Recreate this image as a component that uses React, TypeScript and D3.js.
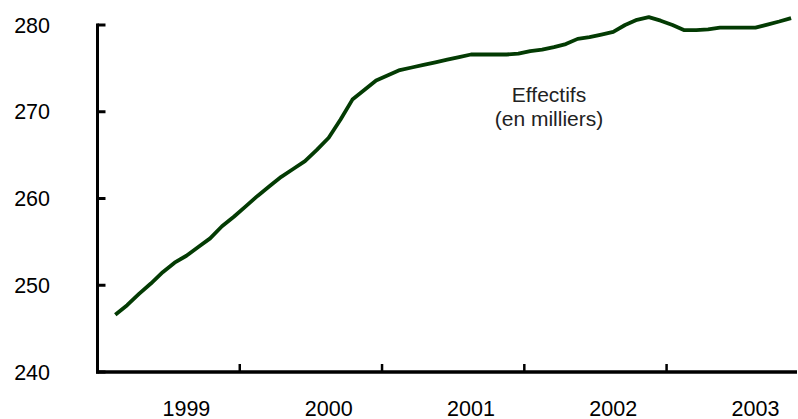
import React from "react";
import * as d3 from "d3";

// Monthly category index (category 0 is empty), values in thousands
const monthIndex: number[] = Array.from({ length: 58 }, (_, i) => i + 1);
const effectifs: number[] = [
  246.6, 247.7, 249.0, 250.2, 251.5, 252.6, 253.4, 254.4, 255.4, 256.8,
  257.9, 259.1, 260.3, 261.4, 262.5, 263.4, 264.3, 265.6, 267.0, 269.1,
  271.4, 272.5, 273.6, 274.2, 274.8, 275.1, 275.4, 275.7, 276.0, 276.3,
  276.6, 276.6, 276.6, 276.6, 276.7, 277.0, 277.15, 277.45, 277.8, 278.4,
  278.6, 278.9, 279.2, 280.0, 280.6, 280.9, 280.5, 280.0, 279.4, 279.4,
  279.5, 279.7, 279.7, 279.7, 279.7, 280.05, 280.4, 280.8,
];
const yearLabels: string[] = ["1999", "2000", "2001", "2002", "2003"];
const yearLabelCategory: number[] = [7, 19, 31, 43, 55];
const xTickBoundaries: number[] = [12, 24, 36, 48];
const yTicks: number[] = [240, 250, 260, 270, 280];
const annotation: string[] = ["Effectifs", "(en milliers)"];

const W = 798;
const H = 419;

export default function App() {
  const x = d3.scaleLinear().domain([0, 59]).range([97.5, 797]);
  const y = d3.scaleLinear().domain([240, 280]).range([372, 25]);
  const line = d3
    .line<number>()
    .x((_, i) => x(monthIndex[i] + 0.5))
    .y((d) => y(d));
  const font = "'Liberation Sans', Arial, sans-serif";
  return (
    <svg
      width={W}
      height={H}
      style={{ position: "absolute", left: 0, top: 0, background: "#fff" }}
      fontFamily={font}
    >
      {/* y axis */}
      <line x1={x(0)} x2={x(0)} y1={y(280) - 1.5} y2={y(240) + 1.5} stroke="#000" strokeWidth={3} />
      {yTicks.map((t) => (
        <g key={t}>
          <line x1={x(0)} x2={x(0) + 8} y1={y(t)} y2={y(t)} stroke="#000" strokeWidth={3} />
          <text x={50} y={y(t)} dy="0.36em" textAnchor="end" fontSize={21.5} fill="#000">
            {t}
          </text>
        </g>
      ))}
      {/* x axis */}
      <line x1={x(0) - 1.5} x2={x(59)} y1={y(240)} y2={y(240)} stroke="#000" strokeWidth={3.5} />
      {xTickBoundaries.map((b) => (
        <line key={b} x1={x(b)} x2={x(b)} y1={y(240)} y2={y(240) - 8} stroke="#000" strokeWidth={2.5} />
      ))}
      {yearLabels.map((l, i) => (
        <text key={l} x={x(yearLabelCategory[i] + 0.5)} y={416} textAnchor="middle" fontSize={21.5} fill="#000">
          {l}
        </text>
      ))}
      {/* series */}
      <path d={line(effectifs) || ""} fill="none" stroke="#033b03" strokeWidth={3.8} strokeLinejoin="round" />
      {/* annotation */}
      {annotation.map((a, i) => (
        <text key={a} x={549} y={101.5 + i * 24.5} textAnchor="middle" fontSize={21} fill="#222">
          {a}
        </text>
      ))}
    </svg>
  );
}
